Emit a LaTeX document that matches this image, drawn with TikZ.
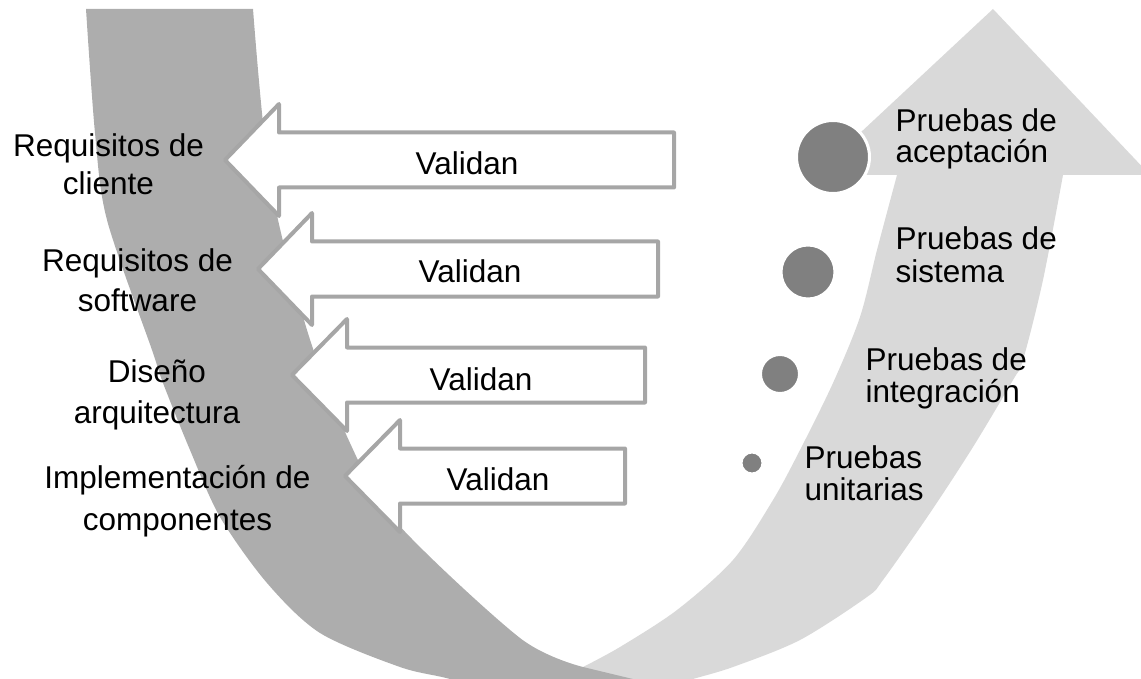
\documentclass[tikz,border=0pt]{standalone}
\usepackage{fontspec}
\setmainfont{Liberation Sans}
\definecolor{darkband}{HTML}{ADADAD}
\definecolor{lightband}{HTML}{D9D9D9}
\definecolor{dotgray}{HTML}{808080}
\definecolor{arrowgray}{HTML}{A6A6A6}
% left-pointing block arrow: #1 centre y, #2 tip x, #3 head base x, #4 tail x
\newcommand{\valarrow}[4]{%
  \draw[arrowline] (#2,#1) -- (#3,#1-56) -- (#3,#1-27.5) -- (#4,#1-27.5)
    -- (#4,#1+27.5) -- (#3,#1+27.5) -- (#3,#1+56) -- cycle;}
\begin{document}
\begin{tikzpicture}[x=1pt,y=-1pt,
  arrowline/.style={draw=arrowgray,line width=4pt,fill=white,line join=round},
  leftlbl/.style={font=\fontsize{31.5}{#1}\selectfont,align=center,inner sep=0pt,anchor=base},
  rightlbl/.style={font=\fontsize{31.5}{#1}\selectfont,align=left,inner sep=0pt,anchor=base west},
  arrowtxt/.style={font=\fontsize{31.5}{37}\selectfont,inner sep=0pt,anchor=base},
  dot/.style={circle,fill=dotgray,draw=white,line width=3pt,inner sep=0pt,minimum size=#1}]
\useasboundingbox (0,0) rectangle (1141,679);
\begin{scope}
  \clip (0,0) rectangle (1141,679);
  % rising band with its arrowhead
  \fill[lightband] (993,9) -- (1150,175) -- (1063,175)
    -- plot[smooth] coordinates {(1063,175) (1043,280) (1023,360) (1013,380) (973,447)
        (930,513) (883,580) (867,597) (800,640) (733,667) (693,679) (650,692)}
    -- (560,700) -- (583,667)
    -- plot[smooth] coordinates {(583,667) (620,647) (677,610) (733,560) (773,500)
        (800,450) (833,383) (860,317) (877,250) (897,175)}
    -- (815,175) -- cycle;
  % descending band
  \fill[darkband] (86,9)
    -- plot[smooth] coordinates {(86,9) (95,133) (107,220) (152,350) (163,383)
        (190,450) (220,517) (267,583) (320,633) (400,667) (450,679) (520,700)}
    -- (720,700) -- (583,667)
    -- plot[smooth] coordinates {(583,667) (520,638) (397,523) (350,443) (307,330)
        (270,180) (253,9)}
    -- cycle;
\end{scope}

% validation arrows
\valarrow{160}{225}{279}{674}
\valarrow{269}{258}{312}{658}
\valarrow{375}{292}{347}{645}
\valarrow{476}{345}{400}{625}

\node[arrowtxt] (v1) at (467,174.5) {Validan};
\node[arrowtxt] (v2) at (470,283) {Validan};
\node[arrowtxt] (v3) at (481,390) {Validan};
\node[arrowtxt] (v4) at (498,490) {Validan};

% development stages (anchored on the baseline of the last line)
\node[leftlbl=38] (req) at (108.5,195) {Requisitos de\\cliente};
\node[leftlbl=40] (sw) at (137.5,312) {Requisitos de\\software};
\node[leftlbl=41] (arq) at (157,423) {Diseño\\arquitectura};
\node[leftlbl=42] (impl) at (177.5,530) {Implementación de\\componentes};

% test levels
\node[dot=73] (c1) at (833,157) {};
\node[dot=54] (c2) at (808,272) {};
\node[dot=39] (c3) at (780,374) {};
\node[dot=22] (c4) at (752,463) {};

\node[rightlbl=31] (acep) at (895.5,163) {Pruebas de\\aceptación};
\node[rightlbl=33] (sist) at (895.5,283) {Pruebas de\\sistema};
\node[rightlbl=32] (integ) at (865.5,402) {Pruebas de\\integración};
\node[rightlbl=32] (unit) at (804.5,500) {Pruebas\\unitarias};
\end{tikzpicture}
\end{document}
